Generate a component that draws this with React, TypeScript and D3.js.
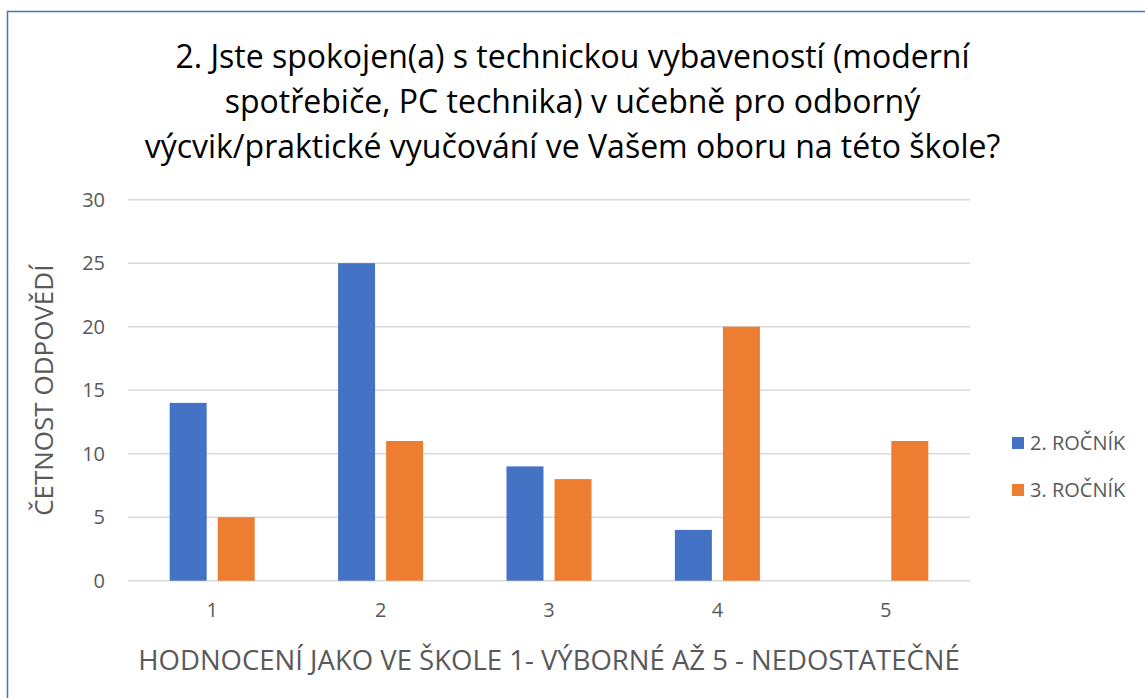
import * as d3 from "d3";
import { useEffect, useRef } from "react";

const categories = ["1", "2", "3", "4", "5"];
const seriesNames = ["2. ROČNÍK", "3. ROČNÍK"];
const rocnik2 = [14, 25, 9, 4, 0];
const rocnik3 = [5, 11, 8, 20, 11];
const yTicks = [0, 5, 10, 15, 20, 25, 30];
const titleLines = [
  "2. Jste spokojen(a) s technickou vybaveností (moderní",
  "spotřebiče, PC technika) v učebně pro odborný",
  "výcvik/praktické vyučování ve Vašem oboru na této škole?",
];
const colors = ["#4472C4", "#ED7D31"];

const App = () => {
  const ref = useRef<SVGSVGElement>(null);

  useEffect(() => {
    const svg = d3.select(ref.current);
    svg.selectAll("*").remove();
    const width = 1145;
    const height = 698;
    const margin = { top: 200, right: 175, bottom: 118, left: 128 };
    const font = "'Open Sans', sans-serif";

    svg.attr("viewBox", [0, 0, width, height]);

    svg
      .append("rect")
      .attr("x", 7.5)
      .attr("y", 11.5)
      .attr("width", width + 20)
      .attr("height", height + 20)
      .attr("fill", "white")
      .attr("stroke", "#4472C4")
      .attr("stroke-width", 1.5);

    const x0 = d3
      .scaleBand()
      .domain(categories)
      .range([margin.left, width - margin.right])
      .paddingInner(0.495)
      .paddingOuter(0.2475);

    const x1 = d3
      .scaleBand()
      .domain(seriesNames)
      .range([0, x0.bandwidth()])
      .paddingInner(0.23);

    const y = d3
      .scaleLinear()
      .domain([0, 30])
      .range([height - margin.bottom + 0.7, margin.top - 0.3]);

    // Title
    svg
      .append("text")
      .attr("x", width / 2)
      .attr("text-anchor", "middle")
      .attr("font-family", font)
      .attr("font-size", 32)
      .attr("fill", "#000")
      .selectAll("tspan")
      .data(titleLines)
      .join("tspan")
      .attr("x", width / 2)
      .attr("y", (d, i) => 68 + i * 45)
      .text((d) => d);

    // Gridlines
    svg
      .append("g")
      .selectAll("line")
      .data(yTicks)
      .join("line")
      .attr("x1", margin.left)
      .attr("x2", width - margin.right)
      .attr("y1", (d) => y(d))
      .attr("y2", (d) => y(d))
      .attr("stroke", "#D9D9D9")
      .attr("stroke-width", 1.5);

    // Y tick labels
    svg
      .append("g")
      .selectAll("text")
      .data(yTicks)
      .join("text")
      .attr("x", 105)
      .attr("y", (d) => y(d))
      .attr("dy", "0.35em")
      .attr("text-anchor", "end")
      .attr("font-family", font)
      .attr("font-size", 20)
      .attr("fill", "#595959")
      .text((d) => d);

    // Bars
    const data = categories.map((c, i) => ({
      cat: c,
      values: [rocnik2[i], rocnik3[i]],
    }));
    svg
      .append("g")
      .selectAll("g")
      .data(data)
      .join("g")
      .attr("transform", (d) => `translate(${x0(d.cat)},0)`)
      .selectAll("rect")
      .data((d) => d.values.map((v, j) => ({ name: seriesNames[j], v, j })))
      .join("rect")
      .attr("x", (d) => x1(d.name))
      .attr("y", (d) => y(d.v))
      .attr("width", x1.bandwidth())
      .attr("height", (d) => y(0) - y(d.v))
      .attr("fill", (d) => colors[d.j]);

    // X tick labels
    svg
      .append("g")
      .selectAll("text")
      .data(categories)
      .join("text")
      .attr("x", (d) => x0(d) + x0.bandwidth() / 2)
      .attr("y", 617)
      .attr("text-anchor", "middle")
      .attr("font-family", font)
      .attr("font-size", 20)
      .attr("fill", "#595959")
      .text((d) => d);

    // Axis titles
    svg
      .append("text")
      .attr("x", (margin.left + width - margin.right) / 2)
      .attr("y", 670)
      .attr("text-anchor", "middle")
      .attr("font-family", font)
      .attr("font-size", 27.5)
      .attr("fill", "#595959")
      .text("HODNOCENÍ JAKO VE ŠKOLE 1- VÝBORNÉ AŽ 5 - NEDOSTATEČNÉ");

    svg
      .append("text")
      .attr("transform", `translate(53,${y(15)}) rotate(-90)`)
      .attr("text-anchor", "middle")
      .attr("font-family", font)
      .attr("font-size", 26)
      .attr("fill", "#595959")
      .text("ČETNOST ODPOVĚDÍ");

    // Legend
    const legend = svg
      .append("g")
      .selectAll("g")
      .data(seriesNames)
      .join("g")
      .attr("transform", (d, i) => `translate(1012,${443 + i * 47})`);
    legend
      .append("rect")
      .attr("x", 0)
      .attr("y", -6)
      .attr("width", 12)
      .attr("height", 12)
      .attr("fill", (d, i) => colors[i]);
    legend
      .append("text")
      .attr("x", 18)
      .attr("dy", "0.35em")
      .attr("font-family", font)
      .attr("font-size", 20)
      .attr("fill", "#595959")
      .text((d) => d);
  }, []);

  return (
    <svg
      ref={ref}
      width={1145}
      height={698}
      style={{ position: "absolute", left: 0, top: 0 }}
    />
  );
};

export default App;
